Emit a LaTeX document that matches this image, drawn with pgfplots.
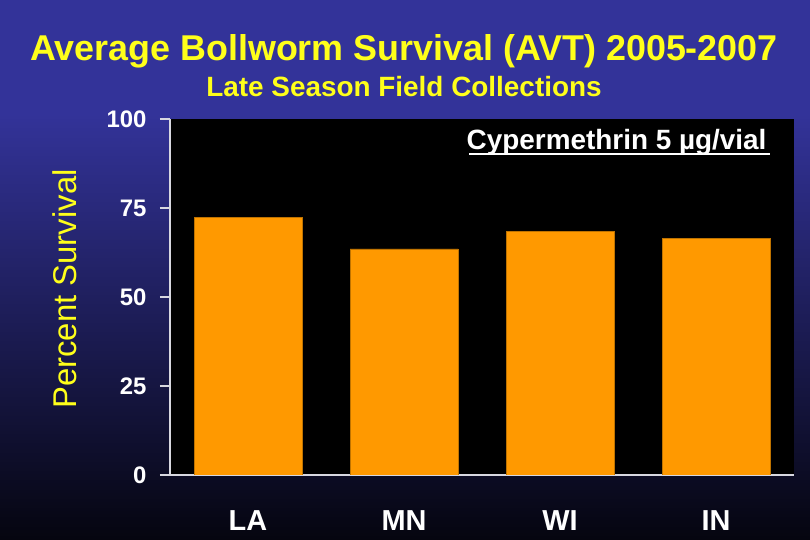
\documentclass[border=0pt]{standalone}
\usepackage{fontspec}
\setmainfont{Liberation Sans}
\usepackage{pgfplots}
\pgfplotsset{compat=1.18}
\definecolor{bgblue}{HTML}{333399}
\definecolor{bgdark}{HTML}{05050F}
\definecolor{baror}{HTML}{FF9900}
\definecolor{ttl}{HTML}{FFFF1A}
\definecolor{axgray}{HTML}{D8D8E0}
\begin{document}
\begin{tikzpicture}
\useasboundingbox (0,0) rectangle (810bp,540bp);
\fill[bgblue] (0,425bp) rectangle (810bp,540bp);
\shade[top color=bgblue, bottom color=bgdark] (0,0) rectangle (810bp,426bp);
% titles
\node[anchor=base, text=ttl, font=\fontsize{36}{36}\selectfont\bfseries] at (404bp,479bp) {Average Bollworm Survival (AVT) 2005-2007};
\node[anchor=base, text=ttl, font=\fontsize{28}{28}\selectfont\bfseries] at (404bp,443bp) {Late Season Field Collections};
\node[rotate=90, text=ttl, font=\fontsize{33}{33}\selectfont] at (65bp,251bp) {Percent Survival};
\begin{axis}[
  at={(170bp,65bp)}, anchor=south west,
  scale only axis, width=624bp, height=356bp,
  xmin=-0.5, xmax=3.5, ymin=0, ymax=100,
  axis background/.style={fill=black},
  axis x line*=bottom, axis y line*=left,
  axis line style={axgray, line width=1.3pt, -},
  tick align=outside,
  major tick length=10bp, minor tick length=10bp,
  tick style={axgray, line width=1.3pt},
  ytick={0,25,50,75,100},
  xtick={0,1,2,3},
  xticklabels={LA,MN,WI,IN},
  x tick style={draw=none},
  minor xtick={-0.5,0.5,1.5,2.5,3.5},
  minor x tick style={axgray, line width=1.3pt},
  yticklabel style={text=white, font=\fontsize{24}{24}\selectfont\bfseries, xshift=-10bp},
  xticklabel style={text=white, font=\fontsize{29}{29}\selectfont\bfseries, yshift=-22bp},
  /pgf/number format/assume math mode=true,
  ybar, bar width=108bp,
]
\addplot[fill=baror, draw=baror!75!black, line width=0.5pt] coordinates {(0,72.4) (1,63.5) (2,68.5) (3,66.4)};
\end{axis}
\node[anchor=base east, text=white, font=\fontsize{28}{28}\selectfont\bfseries] at (770bp,390bp) {Cypermethrin 5 µg/vial};
\draw[white, line width=2bp] (469bp,386bp) -- (770bp,386bp);
\end{tikzpicture}
\end{document}
